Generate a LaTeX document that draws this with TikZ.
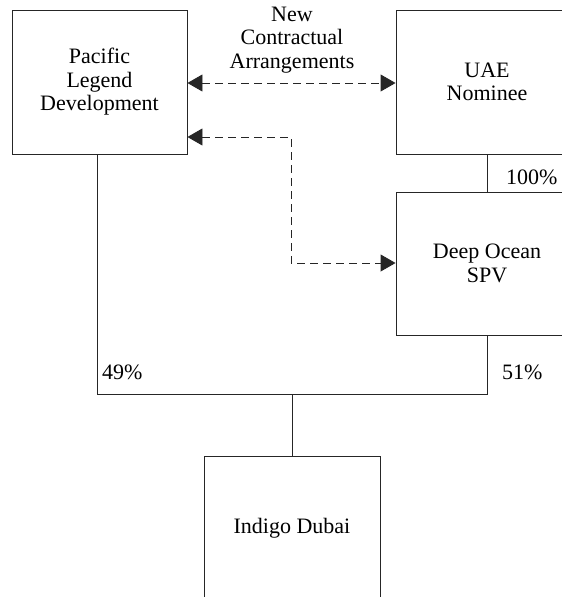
\documentclass[tikz,border=0pt]{standalone}
\usepackage{fontspec}
\setmainfont{Liberation Serif}
\usetikzlibrary{arrows.meta}
\begin{document}
\begin{tikzpicture}[x=1pt,y=-1pt,
  entity/.style={draw=black!85,line width=0.9pt,align=center,inner sep=0pt,
    font=\fontsize{22}{23.5}\selectfont},
  own/.style={draw=black!85,line width=0.9pt},
  contract/.style={draw=black!85,line width=0.9pt,dash pattern=on 7.5pt off 5.5pt,
    {Triangle[length=15pt,width=17pt]}-{Triangle[length=15pt,width=17pt]}},
  pct/.style={font=\fontsize{22}{23.5}\selectfont,inner sep=0pt}]
\useasboundingbox (0,0) rectangle (562,597);
\clip (0,0) rectangle (562,597);
\node[entity,minimum width=175pt,minimum height=144pt] (pld) at (99.5,82) {Pacific\\Legend\\Development};
\node[entity,minimum width=182pt,minimum height=144pt] (uae) at (487,82) {UAE\\Nominee};
\node[entity,minimum width=182pt,minimum height=143pt] (dos) at (487,263.5) {Deep Ocean\\SPV};
\node[entity,minimum width=176pt,minimum height=144pt] (ind) at (292,528) {Indigo Dubai};
\node[font=\fontsize{22}{23.5}\selectfont,align=center,inner sep=0pt] (lbl) at (292,40) {New\\Contractual\\Arrangements};
% ownership
\coordinate (jl) at (97,394);
\coordinate (jr) at (487,394);
\coordinate (jc) at (292,394);
\draw[own] (uae.south) -- (dos.north);
\draw[own] (pld.south -| jl) -- (jl) -- (jr) -- (dos.south -| jr);
\draw[own] (jc) -- (ind.north);
\node[pct,anchor=west] (p100) at (506,177) {100\%};
\node[pct,anchor=west] (p49) at (102,372) {49\%};
\node[pct,anchor=west] (p51) at (502,372) {51\%};
% contractual
\draw[contract] (pld.east |- 0,83) -- (uae.west |- 0,83);
\coordinate (bend1) at (291,137);
\coordinate (bend2) at (291,263);
\draw[contract] (pld.east |- bend1) -- (bend1) -- (bend2) -- (dos.west |- bend2);
\end{tikzpicture}
\end{document}
